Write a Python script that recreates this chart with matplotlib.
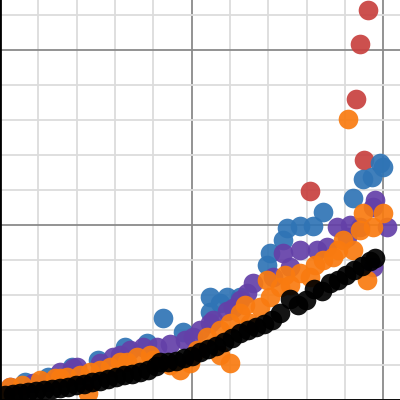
import matplotlib
matplotlib.use("Agg")
import matplotlib.pyplot as plt
from matplotlib.ticker import MultipleLocator

# values (data units; major grid every 50, minor every 10)
black_x = [1.3, 3.4, 5.2, 7.3, 9.4, 11.5, 13.6, 15.7, 17.8, 19.8, 21.9, 24.0,
           26.1, 28.2, 30.3, 32.4, 34.5, 36.6, 38.6, 40.7, 41.8, 43.9, 46.0,
           48.0, 50.1, 52.2, 54.3, 56.4, 58.5, 60.6, 62.7, 64.8, 66.8, 68.9,
           71.0, 73.1, 75.7, 77.8, 79.9, 82.0, 84.1, 86.2, 88.3, 90.3, 92.4,
           94.5, 96.6, 97.9]
black_y = [1.4, 1.7, 2.0, 2.3, 2.6, 2.9, 3.1, 3.4, 3.7, 4.3, 4.6, 5.1,
           5.4, 6.0, 6.6, 7.1, 7.4, 8.0, 8.6, 9.7, 10.9, 10.9, 11.1,
           12.0, 12.6, 13.7, 14.6, 15.4, 16.6, 17.7, 19.1, 20.0, 20.9, 21.7,
           22.9, 24.9, 28.9, 27.1, 28.6, 31.7, 31.1, 33.4, 34.3, 35.7, 37.1,
           38.3, 39.7, 40.6]

orange_x = [0.8, 2.6, 5.7, 10.4, 14.4, 15.7, 17.5, 20.9, 23.0, 23.5, 26.1, 28.7,
            31.3, 33.2, 35.8, 39.2, 39.9, 44.4, 47.0, 49.6, 51.4, 54.0, 57.4,
            57.4, 60.1, 60.1, 62.7, 64.0, 65.3, 67.9, 69.7, 70.5, 73.1, 74.4,
            75.7, 78.3, 80.9, 82.2, 84.3, 86.9, 88.3, 89.6, 90.9, 92.2, 94.0,
            94.8, 95.8, 97.4, 100.0]
orange_y = [1.4, 3.7, 4.3, 5.7, 6.3, 6.3, 6.6, 7.1, 2.0, 8.0, 8.6, 9.4,
            10.9, 10.9, 12.3, 12.9, 11.4, 10.0, 8.6, 10.6, 14.3, 18.0, 20.0,
            12.9, 22.0, 10.6, 24.9, 27.1, 22.0, 26.6, 34.3, 29.4, 32.3, 35.7,
            32.9, 36.3, 35.1, 38.6, 40.0, 40.9, 42.9, 45.7, 80.3, 42.9, 48.6,
            53.4, 34.3, 49.4, 53.4]

purple_x = [2.6, 8.6, 12.3, 15.7, 19.1, 20.1, 26.1, 29.5, 31.3, 33.9, 37.3,
            41.0, 44.4, 48.3, 50.4, 52.2, 54.8, 55.6, 59.3, 60.8, 62.7, 64.5,
            66.1, 71.3, 73.9, 75.7, 78.3, 82.8, 85.4, 88.0, 90.6, 91.4, 94.0,
            97.4, 97.9, 101.0, 97.4]
purple_y = [3.7, 4.9, 5.1, 8.0, 9.1, 9.4, 10.6, 12.3, 12.9, 14.3, 15.1,
            15.1, 16.0, 17.1, 18.0, 20.0, 22.0, 22.9, 25.4, 26.3, 28.6, 30.6,
            33.4, 35.1, 42.0, 38.0, 42.9, 42.9, 43.7, 49.4, 46.6, 50.0, 49.4,
            55.1, 57.1, 49.4, 38.0]

blue_x = [1.3, 6.5, 12.5, 18.8, 25.6, 32.6, 38.4, 42.6, 47.8, 54.8, 54.8,
          57.4, 59.3, 62.7, 69.7, 70.5, 73.9, 74.9, 78.3, 81.7, 84.3, 92.2,
          94.8, 97.1, 99.2, 100.0]
blue_y = [2.3, 5.1, 6.6, 9.4, 11.4, 15.1, 16.3, 23.4, 19.4, 25.1, 29.4,
          27.7, 29.4, 29.4, 38.6, 42.0, 45.7, 49.1, 49.7, 49.7, 53.7, 57.7,
          63.1, 63.7, 67.7, 66.6]

red_x = [80.9, 95.0, 93.0, 94.0, 96.1]
red_y = [59.7, 68.6, 86.0, 101.7, 111.4]

RED, BLUE, PURPLE, ORANGE, BLACK = "#c8413f", "#2f74b5", "#6440a8", "#f97b10", "#000000"

fig = plt.figure(figsize=(4, 4), dpi=100)
ax = fig.add_axes([0, 0, 1, 1])
ax.set_xlim(0, 104.4)
ax.set_ylim(0, 114.3)

ax.xaxis.set_major_locator(MultipleLocator(50))
ax.yaxis.set_major_locator(MultipleLocator(50))
ax.xaxis.set_minor_locator(MultipleLocator(10))
ax.yaxis.set_minor_locator(MultipleLocator(10))
ax.grid(which="minor", color="#dcdcdc", lw=1.3)
ax.grid(which="major", color="#8a8a8a", lw=1.3)
ax.set_axisbelow(True)
ax.tick_params(which="both", length=0, labelbottom=False, labelleft=False)
for side in ("top", "right"):
    ax.spines[side].set_visible(False)
ax.spines["left"].set_linewidth(2)
ax.spines["bottom"].set_linewidth(2)

kw = dict(s=200, linewidths=0, alpha=0.92)
ax.scatter(red_x, red_y, color=RED, **kw)
ax.scatter(blue_x, blue_y, color=BLUE, **kw)
ax.scatter(purple_x, purple_y, color=PURPLE, **kw)
ax.scatter(orange_x, orange_y, color=ORANGE, **kw)
ax.scatter(black_x, black_y, color=BLACK, **kw)

fig.savefig("out.png", dpi=100)
